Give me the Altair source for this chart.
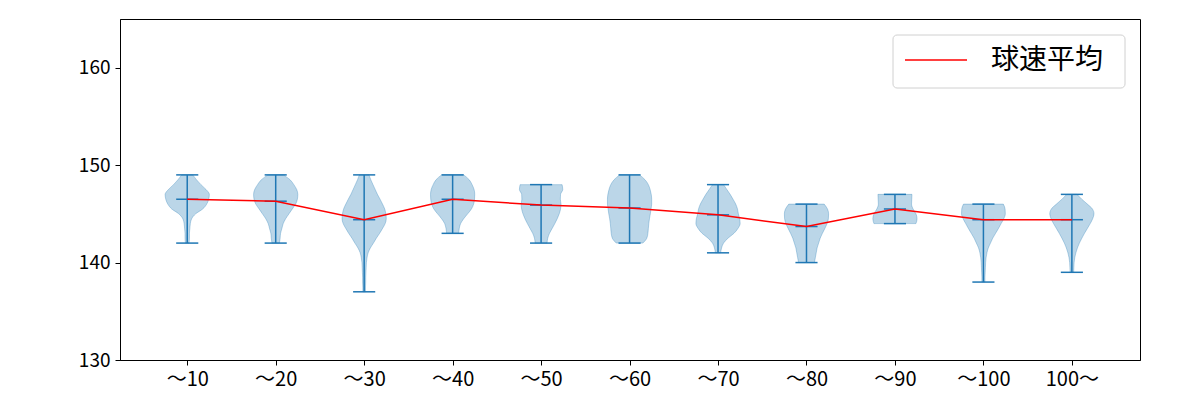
import altair as alt
import pandas as pd

categories = ["〜10", "〜20", "〜30", "〜40", "〜50", "〜60", "〜70", "〜80", "〜90", "〜100", "100〜"]
mins = [142, 142, 137, 143, 142, 142, 141, 140, 144, 138, 139]
maxs = [149, 149, 149, 149, 148, 149, 148, 146, 147, 146, 147]
means = [146.5, 146.3, 144.4, 146.5, 145.9, 145.6, 144.9, 143.7, 145.5, 144.4, 144.4]
legend_label = ["球速平均"]

# violin half-width profiles (relative to the widest point), from min to max in 0.5 steps
w1 = [0.08, 0.1, 0.1, 0.12, 0.14, 0.2, 0.38, 0.7, 0.88, 0.97, 1.0, 0.85, 0.62, 0.42, 0.25]
w2 = [0.17, 0.2, 0.22, 0.28, 0.34, 0.45, 0.6, 0.75, 0.9, 0.98, 1.0, 0.95, 0.82, 0.65, 0.35]
w3 = [0.06, 0.06, 0.07, 0.07, 0.08, 0.09, 0.1, 0.13, 0.18, 0.28, 0.42, 0.55, 0.7, 0.83, 0.95,
      1.0, 0.98, 0.93, 0.83, 0.72, 0.6, 0.5, 0.4, 0.3, 0.22]
w4 = [0.27, 0.3, 0.36, 0.5, 0.68, 0.85, 0.95, 0.99, 1.0, 0.97, 0.88, 0.75, 0.5]
w5 = [0.27, 0.3, 0.38, 0.5, 0.62, 0.73, 0.82, 0.88, 0.9, 0.87, 0.88, 0.98, 0.95]
w6 = [0.6, 0.78, 0.83, 0.85, 0.87, 0.9, 0.94, 0.97, 1.0, 1.0, 0.98, 0.93, 0.85, 0.7, 0.45]
w7 = [0.12, 0.16, 0.25, 0.45, 0.72, 0.9, 1.0, 0.98, 0.92, 0.88, 0.8, 0.68, 0.55, 0.4, 0.25]
w8 = [0.36, 0.4, 0.44, 0.48, 0.55, 0.62, 0.72, 0.83, 0.93, 0.99, 1.0, 0.95, 0.8]
w9 = [0.95, 1.0, 0.95, 0.82, 0.75, 0.76, 0.77]
w10 = [0.07, 0.07, 0.08, 0.09, 0.1, 0.12, 0.16, 0.22, 0.32, 0.42, 0.55, 0.68, 0.8, 0.92,
       0.99, 0.98, 0.9]
w11 = [0.08, 0.09, 0.1, 0.13, 0.18, 0.25, 0.34, 0.45, 0.57, 0.7, 0.83, 0.94, 1.0, 0.93,
       0.7, 0.45, 0.23]
profiles = [w1, w2, w3, w4, w5, w6, w7, w8, w9, w10, w11]

FONT = "Noto Sans CJK JP"
BLUE = "#1f77b4"

rows = []
for i, (lo, prof) in enumerate(zip(mins, profiles)):
    for k, w in enumerate(prof):
        rows.append({"pos": i + 1, "speed": lo + 0.5 * k, "w": w})
violin_df = pd.DataFrame(rows)

stats_df = pd.DataFrame({
    "pos": list(range(1, len(categories) + 1)),
    "min": mins, "max": maxs, "mean": means,
})
bars_df = pd.concat([
    pd.DataFrame({"pos": stats_df["pos"], "v": stats_df[c]}) for c in ["min", "max", "mean"]
])

label_arr = "[" + ",".join("'" + c + "'" for c in categories) + "]"

xscale = alt.Scale(domain=[0.24, 11.77], nice=False, zero=False)
yscale = alt.Scale(domain=[130, 165], nice=False, zero=False)

xaxis = alt.Axis(values=list(range(1, 12)), labelExpr=label_arr + "[datum.value-1]",
                 grid=False, title=None, tickSize=5, labelPadding=4,
                 labelFontSize=20, labelFont=FONT, labelColor="black",
                 domainColor="black", tickColor="black")
yaxis = alt.Axis(values=[130, 140, 150, 160], grid=False, title=None, tickSize=5,
                 labelPadding=5, labelFontSize=19, labelFont=FONT, labelColor="black",
                 domainColor="black", tickColor="black")

violins = alt.Chart(violin_df).transform_calculate(
    xl="datum.pos - 0.25*datum.w", xr="datum.pos + 0.25*datum.w"
).mark_area(orient="horizontal", interpolate="monotone", color=BLUE, fillOpacity=0.3,
            stroke=BLUE, strokeOpacity=0.3, strokeWidth=1).encode(
    y=alt.Y("speed:Q", scale=yscale, axis=yaxis),
    x=alt.X("xl:Q", scale=xscale, axis=xaxis),
    x2="xr:Q",
    detail="pos:N",
)

stems = alt.Chart(stats_df).mark_rule(color=BLUE, strokeWidth=1.5).encode(
    x=alt.X("pos:Q", scale=xscale, axis=xaxis),
    y=alt.Y("min:Q", scale=yscale, axis=yaxis),
    y2="max:Q",
)

caps = alt.Chart(bars_df).transform_calculate(
    a="datum.pos - 0.125", b="datum.pos + 0.125"
).mark_rule(color=BLUE, strokeWidth=1.5).encode(
    x=alt.X("a:Q", scale=xscale, axis=xaxis),
    x2="b:Q",
    y=alt.Y("v:Q", scale=yscale, axis=yaxis),
)

mean_line = alt.Chart(stats_df).mark_line(strokeWidth=1.5, color="red").encode(
    x=alt.X("pos:Q", scale=xscale, axis=xaxis),
    y=alt.Y("mean:Q", scale=yscale, axis=yaxis),
)

# legend box drawn as decoration
leg_df = pd.DataFrame({"label": legend_label})
leg_box = alt.Chart(leg_df).mark_rect(fill="white", stroke="#d0d0d0", strokeWidth=1,
                                      cornerRadius=4).encode(
    x=alt.value(773), x2=alt.value(1005), y=alt.value(16), y2=alt.value(69))
leg_line = alt.Chart(leg_df).mark_rule(color="red", strokeWidth=1.5).encode(
    x=alt.value(785), x2=alt.value(847), y=alt.value(41))
leg_text = alt.Chart(leg_df).mark_text(align="left", baseline="middle", font=FONT,
                                       fontSize=28, color="black").encode(
    x=alt.value(871), y=alt.value(42), text="label:N")

chart = alt.layer(violins, stems, caps, mean_line, leg_box, leg_line, leg_text).properties(
    width=1020, height=341,
    autosize=alt.AutoSizeParams(type="none"),
    padding={"left": 120, "top": 19, "right": 60, "bottom": 40},
    background="white",
).configure_view(stroke="black", strokeWidth=1).configure_axis(domainWidth=1, tickWidth=1)

chart.save("out.html", embed_options={"renderer": "svg", "actions": False})
